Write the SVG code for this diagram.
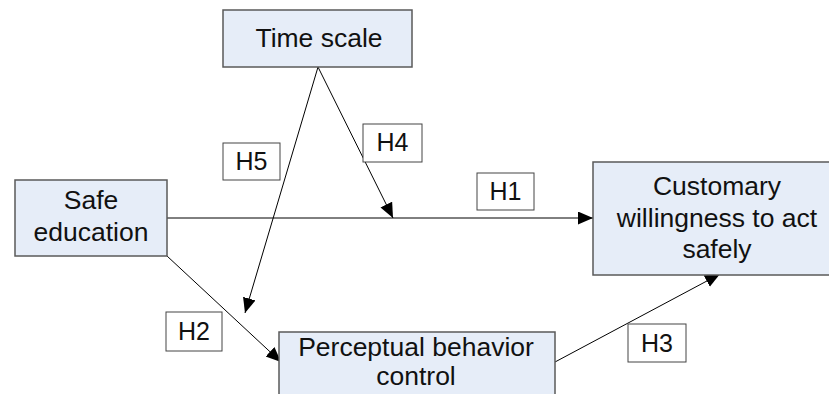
<svg xmlns="http://www.w3.org/2000/svg" width="829" height="394" viewBox="0 0 829 394">
<style>
  .node rect { fill: #e6edf8; stroke: #5a5a5a; stroke-width: 1.5; }
  .node text { font-family: "Liberation Sans", Arial, sans-serif; font-size: 26.5px; fill: #111; text-anchor: middle; }
  .lbl rect { fill: #ffffff; stroke: #444; stroke-width: 1; }
  .lbl text { font-family: "Liberation Sans", Arial, sans-serif; font-size: 25px; fill: #111; text-anchor: middle; }
  .conn line { stroke: #000; stroke-width: 1; marker-end: url(#arr); }
</style>
<defs>
  <marker id="arr" markerUnits="userSpaceOnUse" markerWidth="16" markerHeight="14" refX="15" refY="6.5" orient="auto">
    <path d="M0,0 L15,6.5 L0,13 z" fill="#000"/>
  </marker>
</defs>
<rect width="829" height="394" fill="#ffffff"/>
<g id="connectors" class="conn">
  <line x1="167" y1="218" x2="593" y2="218"/>
  <line x1="318" y1="67" x2="393" y2="218"/>
  <line x1="318" y1="67" x2="245" y2="313"/>
  <line x1="167" y1="256" x2="281" y2="362"/>
  <line x1="555" y1="362" x2="720" y2="274"/>
</g>
<g id="time-scale" class="node">
  <rect x="223" y="10" width="189" height="57"/>
  <text x="319" y="47">Time scale</text>
</g>
<g id="safe-education" class="node">
  <rect x="15" y="180" width="152" height="76"/>
  <text x="91" y="209">Safe</text>
  <text x="91" y="241">education</text>
</g>
<g id="customary-willingness" class="node">
  <rect x="593" y="162" width="260" height="113"/>
  <text x="717" y="195">Customary</text>
  <text x="717" y="227">willingness to act</text>
  <text x="717" y="258">safely</text>
</g>
<g id="perceptual-behavior-control" class="node">
  <rect x="279" y="332" width="276" height="80"/>
  <text x="416" y="356">Perceptual behavior</text>
  <text x="416" y="385">control</text>
</g>
<g id="label-H5" class="lbl">
  <rect x="223" y="143" width="57" height="37"/>
  <text x="251.5" y="170">H5</text>
</g>
<g id="label-H4" class="lbl">
  <rect x="363" y="124" width="59" height="38"/>
  <text x="392.5" y="151">H4</text>
</g>
<g id="label-H1" class="lbl">
  <rect x="477" y="173" width="57" height="37"/>
  <text x="505.5" y="200">H1</text>
</g>
<g id="label-H2" class="lbl">
  <rect x="166" y="312" width="56" height="39"/>
  <text x="194" y="340">H2</text>
</g>
<g id="label-H3" class="lbl">
  <rect x="628" y="324" width="58" height="38"/>
  <text x="657" y="352">H3</text>
</g>
</svg>
